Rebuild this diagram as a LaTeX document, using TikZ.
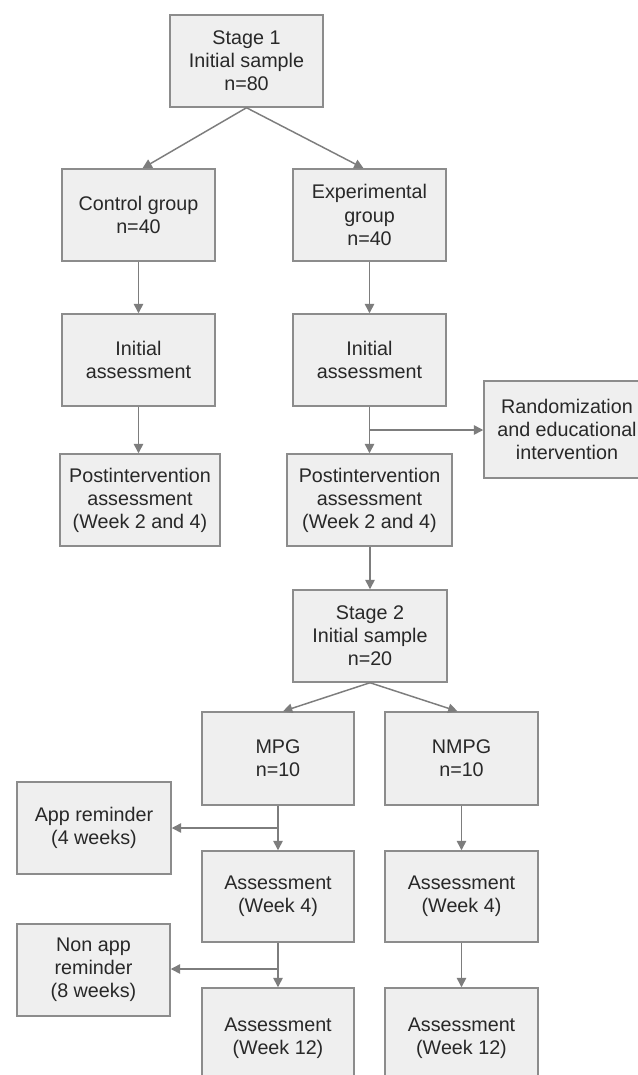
\documentclass[tikz,border=0pt]{standalone}
\usepackage{fontspec}
\setmainfont{Liberation Sans}
\usetikzlibrary{arrows.meta,calc}
\definecolor{boxfill}{RGB}{239,239,239}
\definecolor{boxline}{RGB}{140,140,140}
\definecolor{arrline}{RGB}{125,125,125}
\definecolor{txt}{RGB}{40,40,40}
\tikzset{
  box/.style={draw=boxline, fill=boxfill, line width=1.1pt, rectangle,
    align=center, inner sep=1pt, text=txt,
    font=\fontsize{14.8pt}{17.3pt}\selectfont,
    minimum width=153*0.75pt, minimum height=92*0.75pt},
  arr/.style={draw=arrline, line width=1.1pt,
    -{Triangle[length=7pt,width=7pt]}},
  ln/.style={draw=arrline, line width=1.1pt}
}
\begin{document}
\begin{tikzpicture}[x=0.75pt,y=-0.75pt]
\useasboundingbox (0,0) rectangle (638,1075);
\clip (0,0) rectangle (638,1075);
\fill[white] (0,0) rectangle (638,1075);

\node[box] (s1) at (246.5,61) {Stage 1\\Initial sample\\n=80};
\node[box] (ctrl) at (138.5,215) {Control group\\n=40};
\node[box] (exp) at (369.5,215) {Experimental\\group\\n=40};
\node[box] (initc) at (138.5,360) {Initial\\assessment};
\node[box] (inite) at (369.5,360) {Initial\\assessment};
\node[box, minimum width=160*0.75pt] (postc) at (140,500) {Postintervention\\assessment\\(Week 2 and 4)};
\node[box, minimum width=165*0.75pt] (poste) at (369.5,500) {Postintervention\\assessment\\(Week 2 and 4)};
\node[box, minimum width=166*0.75pt, minimum height=97*0.75pt] (rand) at (567,429.5) {Randomization\\and educational\\intervention};
\node[box, minimum width=154*0.75pt] (s2) at (370,636) {Stage 2\\Initial sample\\n=20};
\node[box, minimum width=152*0.75pt, minimum height=93*0.75pt] (mpg) at (278,758.5) {MPG\\n=10};
\node[box, minimum height=93*0.75pt] (nmpg) at (461.5,758.5) {NMPG\\n=10};
\node[box, minimum width=154*0.75pt] (app) at (94,828) {App reminder\\(4 weeks)};
\node[box, minimum width=152*0.75pt, minimum height=91*0.75pt] (am4) at (278,896.5) {Assessment\\(Week 4)};
\node[box, minimum height=91*0.75pt] (an4) at (461.5,896.5) {Assessment\\(Week 4)};
\node[box] (nonapp) at (93.5,970) {Non app\\reminder\\(8 weeks)};
\node[box, minimum width=152*0.75pt, minimum height=100*0.75pt] (am12) at (278,1038) {Assessment\\(Week 12)};
\node[box, minimum height=100*0.75pt] (an12) at (461.5,1038) {Assessment\\(Week 12)};

\draw[arr] (s1.south) -- ($(ctrl.north)+(4,0)$);
\draw[arr] (s1.south) -- ($(exp.north)+(-6,0)$);
\draw[arr] (ctrl) -- (initc);
\draw[arr] (exp) -- (inite);
\draw[arr] (initc) -- (postc.north -| initc.south);
\draw[arr] (inite) -- (poste.north -| inite.south);
\coordinate (b1) at (369.5,430);
\draw[arr] (b1) -- (b1 -| rand.west);
\draw[arr] (poste.south -| s2.north) -- (s2);
\draw[arr] (s2.south) -- ($(mpg.north)+(5,0)$);
\draw[arr] (s2.south) -- ($(nmpg.north)+(-4,0)$);
\draw[arr] (mpg) -- (am4);
\coordinate (b2) at (278,828);
\draw[arr] (b2) -- (b2 -| app.east);
\draw[arr] (nmpg) -- (an4);
\draw[arr] (am4) -- (am12.north);
\coordinate (b3) at (278,969);
\draw[arr] (b3) -- (b3 -| nonapp.east);
\draw[arr] (an4) -- (an12.north);
\end{tikzpicture}
\end{document}
